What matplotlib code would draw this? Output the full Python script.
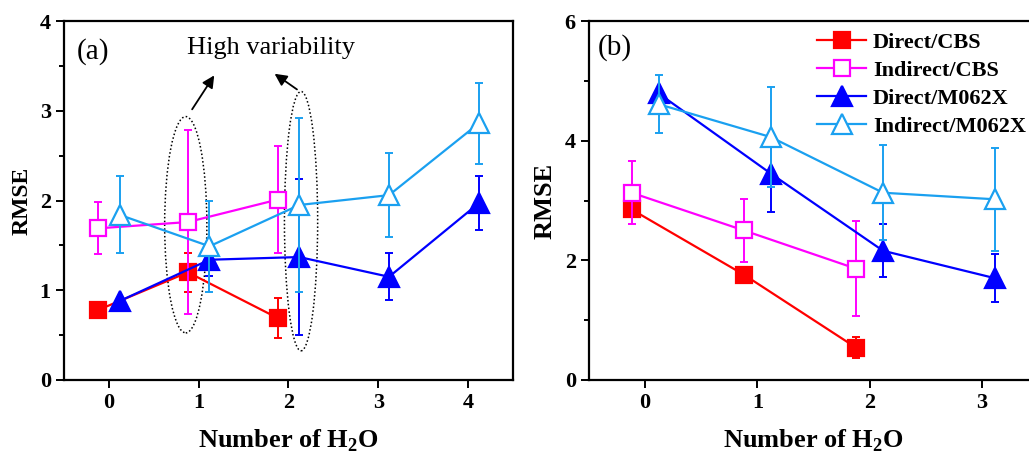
import matplotlib.pyplot as plt
from matplotlib.patches import Ellipse
from matplotlib.ticker import MultipleLocator

plt.rcParams['font.family'] = ['Liberation Serif', 'DejaVu Serif']
plt.rcParams['mathtext.fontset'] = 'custom'
plt.rcParams['mathtext.rm'] = 'Liberation Serif'
plt.rcParams['mathtext.bf'] = 'Liberation Serif:bold'

labels = ['Direct/CBS', 'Indirect/CBS', 'Direct/M062X', 'Indirect/M062X']
colors = ['#FF0000', '#FF00FF', '#0000FF', '#1AA0F0']
markers = ['s', 's', '^', '^']
filled = [True, False, True, False]
shift = [-0.12, -0.12, 0.12, 0.12]

# panel (a)
n_a = [[0, 1, 2], [0, 1, 2], [0, 1, 2, 3, 4], [0, 1, 2, 3, 4]]
rmse_a = [[0.78, 1.20, 0.69],
          [1.69, 1.76, 2.01],
          [0.88, 1.34, 1.37, 1.15, 1.97],
          [1.84, 1.49, 1.95, 2.06, 2.86]]
err_a = [[0.0, 0.22, 0.22],
         [0.29, 1.03, 0.60],
         [0.0, 0.18, 0.87, 0.26, 0.30],
         [0.43, 0.51, 0.97, 0.47, 0.45]]

# panel (b)
n_b = [[0, 1, 2], [0, 1, 2], [0, 1, 2, 3], [0, 1, 2, 3]]
rmse_b = [[2.85, 1.76, 0.54],
          [3.13, 2.50, 1.86],
          [4.79, 3.45, 2.16, 1.70],
          [4.61, 4.06, 3.13, 3.02]]
err_b = [[0.0, 0.0, 0.18],
         [0.53, 0.53, 0.79],
         [0.0, 0.64, 0.44, 0.40],
         [0.49, 0.83, 0.79, 0.86]]

fig = plt.figure(figsize=(10.29, 4.54), dpi=100)
ax_a = fig.add_axes([0.0622, 0.163, 0.4363, 0.7907])
ax_b = fig.add_axes([0.5724, 0.163, 0.4363, 0.7907])


def draw(ax, ns, ys, es):
    for i in range(4):
        xs = [n + shift[i] for n in ns[i]]
        ms = 12 if markers[i] == 's' else 14
        ax.errorbar(xs, ys[i], yerr=es[i], fmt='none', ecolor=colors[i],
                    elinewidth=1.4, capsize=3, capthick=1.4)
        ax.plot(xs, ys[i], color=colors[i], lw=1.6,
                marker=markers[i], ms=ms, mew=1.6,
                mfc=colors[i] if filled[i] else 'white',
                mec=colors[i], label=labels[i])


def style(ax, ymax, major, minor, ysize, ypad):
    ax.set_ylim(0, ymax)
    ax.yaxis.set_major_locator(MultipleLocator(major))
    ax.yaxis.set_minor_locator(MultipleLocator(minor))
    ax.xaxis.set_major_locator(MultipleLocator(1))
    for s in ax.spines.values():
        s.set_linewidth(1.6)
    ax.tick_params(which='major', direction='out', length=6, width=1.4,
                   labelsize=16)
    ax.tick_params(which='minor', direction='out', length=3.5, width=1.4)
    for t in ax.get_xticklabels() + ax.get_yticklabels():
        t.set_fontweight('bold')
    ax.set_xlabel(r'Number of H$_\mathbf{2}$O', fontsize=19,
                  fontweight='bold', labelpad=10)
    ax.set_ylabel('RMSE', fontsize=ysize, fontweight='bold', labelpad=ypad)


draw(ax_a, n_a, rmse_a, err_a)
ax_a.set_xlim(-0.5, 4.5)
style(ax_a, 4, 1, 0.5, 17, 5)
ax_a.text(0.028, 0.915, '(a)', transform=ax_a.transAxes, fontsize=21,
          va='center', ha='left')
ax_a.text(1.80, 3.70, 'High variability', fontsize=19, ha='center',
          va='center')
for cx, cy, w, h in [(0.856, 1.73, 0.47, 2.41), (2.14, 1.77, 0.37, 2.89)]:
    ax_a.add_patch(Ellipse((cx, cy), w, h, fill=False, ec='black',
                           ls=(0, (1, 1.5)), lw=1.1))
ax_a.annotate('', xy=(1.19, 3.42), xytext=(0.91, 2.99),
              arrowprops=dict(arrowstyle='-|>', color='black', lw=1.3,
                              mutation_scale=18))
ax_a.annotate('', xy=(1.82, 3.43), xytext=(2.12, 3.22),
              arrowprops=dict(arrowstyle='-|>', color='black', lw=1.3,
                              mutation_scale=18))

draw(ax_b, n_b, rmse_b, err_b)
ax_b.set_xlim(-0.5, 3.5)
style(ax_b, 6, 2, 1, 19, 6)
ax_b.text(0.02, 0.925, '(b)', transform=ax_b.transAxes, fontsize=21,
          va='center', ha='left')
ax_b.legend(loc='upper left', bbox_to_anchor=(0.474, 1.012), frameon=False,
            prop={'weight': 'bold', 'size': 16}, handlelength=2.2,
            handletextpad=0.3, labelspacing=0.34, borderpad=0.2)

fig.savefig('out.png', dpi=100)
